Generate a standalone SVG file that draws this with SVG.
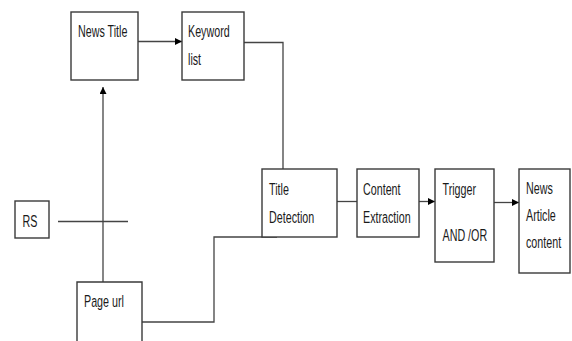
<svg xmlns="http://www.w3.org/2000/svg" width="572" height="341" viewBox="0 0 572 341">
<style>
.box{fill:#fff;stroke:#3a3a3a;stroke-width:1.4}
.ln{fill:none;stroke:#444;stroke-width:1.3}
text{font-family:"Liberation Sans",Arial,sans-serif;font-size:16.5px;fill:#1a1a1a}
</style>
<defs>
<marker id="ah" viewBox="0 0 10 10" refX="10" refY="5" markerWidth="8" markerHeight="7" markerUnits="userSpaceOnUse" orient="auto">
<path d="M0,0 L10,5 L0,10 z" fill="#000"/>
</marker>
</defs>
<rect width="572" height="341" fill="#fff"/>
<g id="connectors">
<line class="ln" x1="138" y1="41.5" x2="182" y2="41.5" marker-end="url(#ah)"/>
<polyline class="ln" points="244,42.5 283,42.5 283,169"/>
<line class="ln" x1="103" y1="282" x2="103" y2="87" marker-end="url(#ah)"/>
<line class="ln" x1="58" y1="221.5" x2="128" y2="221.5"/>
<polyline class="ln" points="142,322 214,322 214,237 277,237"/>
<line class="ln" x1="337" y1="201.5" x2="357" y2="201.5"/>
<line class="ln" x1="419" y1="201.5" x2="435" y2="201.5" marker-end="url(#ah)"/>
<line class="ln" x1="494" y1="202.5" x2="519" y2="202.5" marker-end="url(#ah)"/>
</g>
<g id="news-title">
<rect class="box" x="71" y="12" width="67" height="68"/>
<text transform="translate(78 37) scale(0.65 1)">News Title</text>
</g>
<g id="keyword-list">
<rect class="box" x="182" y="12" width="62" height="68"/>
<text transform="translate(188 37) scale(0.65 1)">Keyword</text>
<text transform="translate(188 65) scale(0.65 1)">list</text>
</g>
<g id="rs">
<rect class="box" x="15" y="201" width="34" height="37"/>
<text transform="translate(22.5 227) scale(0.65 1)">RS</text>
</g>
<g id="page-url">
<path class="box" d="M77,342 L77,282 L142,282 L142,342"/>
<text transform="translate(84 307) scale(0.65 1)">Page url</text>
</g>
<g id="title-detection">
<rect class="box" x="262" y="169" width="75" height="68"/>
<text transform="translate(269 195) scale(0.65 1)">Title</text>
<text transform="translate(269 223) scale(0.65 1)">Detection</text>
</g>
<g id="content-extraction">
<rect class="box" x="357" y="169" width="62" height="68"/>
<text transform="translate(363 195) scale(0.65 1)">Content</text>
<text transform="translate(363 223) scale(0.65 1)">Extraction</text>
</g>
<g id="trigger">
<rect class="box" x="435" y="169" width="59" height="93"/>
<text transform="translate(442.5 195) scale(0.65 1)">Trigger</text>
<text transform="translate(442.5 241) scale(0.65 1)">AND /OR</text>
</g>
<g id="news-article-content">
<rect class="box" x="519" y="169" width="51" height="104"/>
<text transform="translate(526 194) scale(0.65 1)">News</text>
<text transform="translate(526 221) scale(0.65 1)">Article</text>
<text transform="translate(526 248) scale(0.65 1)">content</text>
</g>
</svg>
